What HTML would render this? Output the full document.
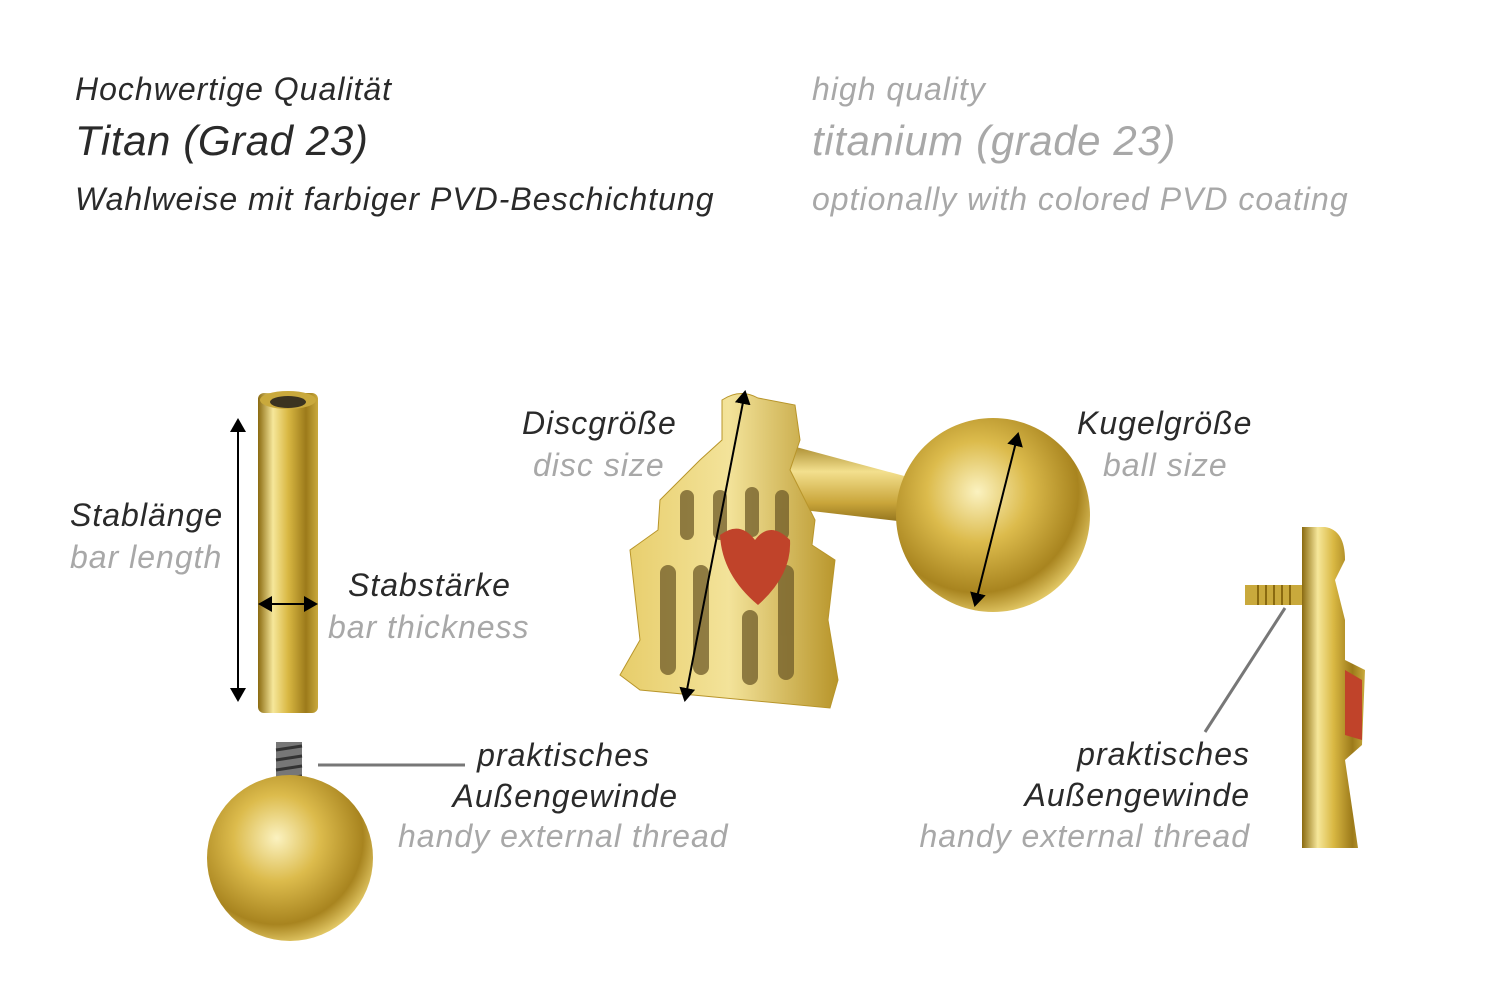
<!DOCTYPE html>
<html><head><meta charset="utf-8"><style>
body{margin:0;width:1500px;height:1001px;background:#fff;overflow:hidden;position:relative;font-family:"Liberation Sans",sans-serif;font-style:italic}
.t{position:absolute;white-space:nowrap;line-height:1;letter-spacing:1px}
.d{color:#2a2a2a}.g{color:#a8a8a8}
.s32{font-size:32px}.s42{font-size:42px;letter-spacing:0.6px}
.r{text-align:right}
</style></head><body>
<svg width="1500" height="1001" style="position:absolute;left:0;top:0">
<defs>
<linearGradient id="bar" x1="0" x2="1"><stop offset="0" stop-color="#8a6a10"/><stop offset=".25" stop-color="#f6e79a"/><stop offset=".5" stop-color="#d9b843"/><stop offset=".8" stop-color="#9c7a1a"/><stop offset="1" stop-color="#c9a93c"/></linearGradient>
<linearGradient id="hbar" x1="0" y1="0" x2="0" y2="1"><stop offset="0" stop-color="#9c7b1c"/><stop offset=".35" stop-color="#f3e08e"/><stop offset=".7" stop-color="#c9a53a"/><stop offset="1" stop-color="#7c5f12"/></linearGradient>
<radialGradient id="ball" cx=".42" cy=".38" r=".65"><stop offset="0" stop-color="#fbf2c0"/><stop offset=".4" stop-color="#dcbb4c"/><stop offset=".8" stop-color="#a8841f"/><stop offset="1" stop-color="#e6cc6a"/></radialGradient>
<linearGradient id="cage" x1="0" x2="1"><stop offset="0" stop-color="#e7cd6a"/><stop offset=".5" stop-color="#f3e39a"/><stop offset="1" stop-color="#b8952a"/></linearGradient>
<marker id="a" markerWidth="8" markerHeight="8" refX="6" refY="4" orient="auto-start-reverse"><path d="M0,0 L7,4 L0,8 z" fill="#000"/></marker>
</defs>
<rect x="258" y="393" width="60" height="320" rx="6" fill="url(#bar)"/>
<ellipse cx="288" cy="400" rx="28" ry="9" fill="#c9a93c"/>
<ellipse cx="288" cy="402" rx="18" ry="6" fill="#3a3320"/>
<line x1="238" y1="420" x2="238" y2="700" stroke="#000" stroke-width="2" marker-start="url(#a)" marker-end="url(#a)"/>
<line x1="260" y1="604" x2="316" y2="604" stroke="#000" stroke-width="2" marker-start="url(#a)" marker-end="url(#a)"/>
<rect x="276" y="742" width="26" height="56" fill="#777"/>
<g stroke="#333" stroke-width="3"><line x1="276" y1="750" x2="302" y2="746"/><line x1="276" y1="760" x2="302" y2="756"/><line x1="276" y1="770" x2="302" y2="766"/><line x1="276" y1="780" x2="302" y2="776"/></g>
<circle cx="290" cy="858" r="83" fill="url(#ball)"/>
<line x1="318" y1="765" x2="465" y2="765" stroke="#777" stroke-width="3"/>
<path d="M770,440 L975,495 L975,530 L760,505 Z" fill="url(#hbar)"/>
<circle cx="993" cy="515" r="97" fill="url(#ball)"/>
<path d="M722,400 Q740,388 758,398 L795,405 L800,440 L790,470 L815,520 L812,545 L835,560 L828,620 L838,680 L830,708 L640,690 L620,675 L640,640 L630,550 L658,530 L660,500 L700,460 L722,440 Z" fill="url(#cage)" stroke="#b8952a"/>
<g fill="#6f5b28" opacity=".75">
<rect x="680" y="490" width="14" height="50" rx="7"/><rect x="713" y="490" width="14" height="50" rx="7"/><rect x="745" y="487" width="14" height="50" rx="7"/><rect x="775" y="490" width="14" height="50" rx="7"/>
<rect x="660" y="565" width="16" height="110" rx="8"/><rect x="693" y="565" width="16" height="110" rx="8"/><rect x="742" y="610" width="16" height="75" rx="8"/><rect x="778" y="565" width="16" height="115" rx="8"/>
</g>
<path d="M720,535 Q740,520 755,540 Q770,520 790,540 Q792,575 758,605 Q722,575 720,535 Z" fill="#c0432a"/>
<line x1="745" y1="392" x2="685" y2="700" stroke="#000" stroke-width="2" marker-start="url(#a)" marker-end="url(#a)"/>
<line x1="1018" y1="434" x2="975" y2="605" stroke="#000" stroke-width="2" marker-start="url(#a)" marker-end="url(#a)"/>
<rect x="1245" y="585" width="60" height="20" fill="#c9a93c"/>
<g stroke="#8a6a10" stroke-width="2"><line x1="1258" y1="585" x2="1258" y2="605"/><line x1="1266" y1="585" x2="1266" y2="605"/><line x1="1274" y1="585" x2="1274" y2="605"/><line x1="1282" y1="585" x2="1282" y2="605"/><line x1="1290" y1="585" x2="1290" y2="605"/></g>
<path d="M1302,527 L1325,527 Q1345,530 1345,560 L1335,580 L1345,620 L1345,660 L1365,670 L1362,745 L1345,760 L1358,848 L1302,848 Z" fill="url(#bar)"/>
<path d="M1345,670 L1362,680 L1362,740 L1345,735 Z" fill="#c0432a"/>
<line x1="1205" y1="732" x2="1285" y2="608" stroke="#777" stroke-width="3"/>
</svg>
<div class="t d s32" style="left:75px;top:73px">Hochwertige Qualität</div>
<div class="t d s42" style="left:75px;top:120px">Titan (Grad 23)</div>
<div class="t d s32" style="left:75px;top:183px">Wahlweise mit farbiger PVD-Beschichtung</div>
<div class="t g s32" style="left:812px;top:73px">high quality</div>
<div class="t g s42" style="left:812px;top:120px">titanium (grade 23)</div>
<div class="t g s32" style="left:812px;top:183px">optionally with colored PVD coating</div>
<div class="t d s32" style="left:70px;top:499px">Stablänge</div>
<div class="t g s32" style="left:70px;top:541px">bar length</div>
<div class="t d s32" style="left:348px;top:569px">Stabstärke</div>
<div class="t g s32" style="left:328px;top:611px">bar thickness</div>
<div class="t d s32 r" style="right:850px;top:739px">praktisches</div>
<div class="t d s32 r" style="right:822px;top:780px">Außengewinde</div>
<div class="t g s32" style="left:398px;top:820px">handy external thread</div>
<div class="t d s32" style="left:522px;top:407px">Discgröße</div>
<div class="t g s32" style="left:533px;top:449px">disc size</div>
<div class="t d s32" style="left:1077px;top:407px">Kugelgröße</div>
<div class="t g s32" style="left:1103px;top:449px">ball size</div>
<div class="t d s32 r" style="right:250px;top:738px">praktisches</div>
<div class="t d s32 r" style="right:250px;top:779px">Außengewinde</div>
<div class="t g s32 r" style="right:250px;top:820px">handy external thread</div>
</body></html>
